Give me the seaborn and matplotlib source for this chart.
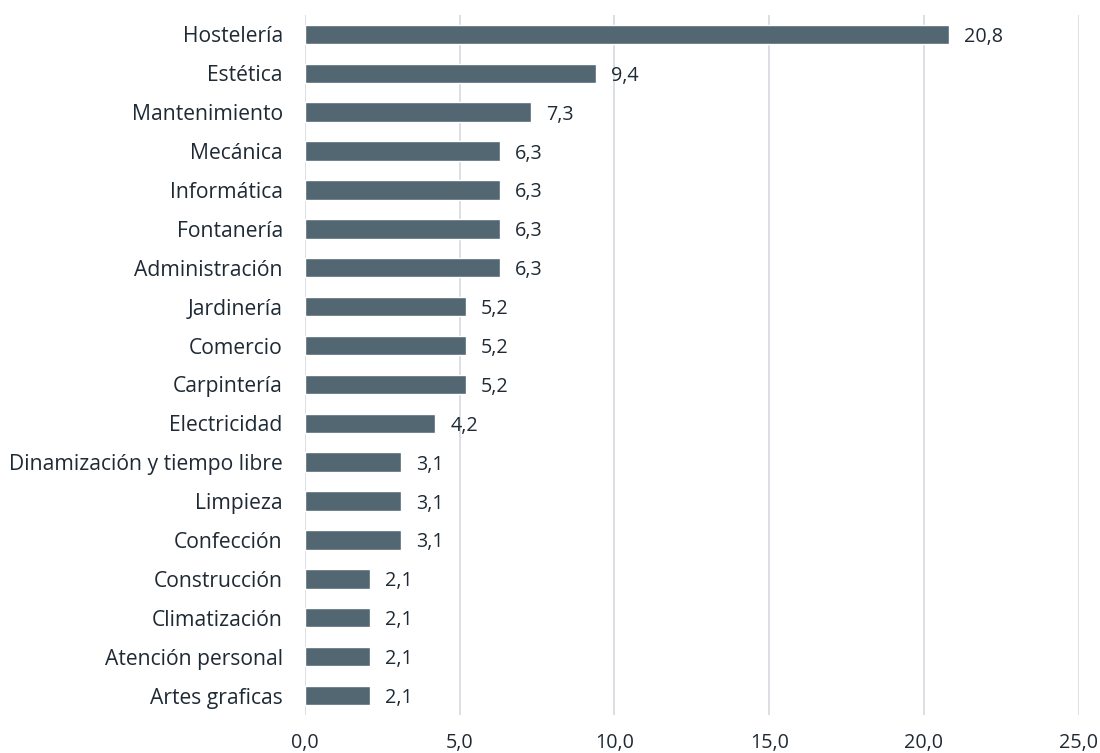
import matplotlib
matplotlib.use("Agg")
import matplotlib.pyplot as plt
import seaborn as sns
import pandas as pd

categories = [
    "Hostelería", "Estética", "Mantenimiento", "Mecánica", "Informática",
    "Fontanería", "Administración", "Jardinería", "Comercio", "Carpintería",
    "Electricidad", "Dinamización y tiempo libre", "Limpieza", "Confección",
    "Construcción", "Climatización", "Atención personal", "Artes graficas",
]
values = [20.8, 9.4, 7.3, 6.3, 6.3, 6.3, 6.3, 5.2, 5.2, 5.2, 4.2, 3.1, 3.1, 3.1,
          2.1, 2.1, 2.1, 2.1]
xticks = [0, 5, 10, 15, 20, 25]

sns.set_theme(style="white")
plt.rcParams["font.family"] = ["Open Sans", "DejaVu Sans"]

TEXT = "#1f2a35"
BAR = "#536773"
GRID = "#d9dde3"

df = pd.DataFrame({"area": categories, "pct": values})

fig = plt.figure(figsize=(11, 7.53), dpi=100)
ax = fig.add_axes([0.2773, 0.0505, 0.9806 - 0.2773, 0.9801 - 0.0505])

sns.barplot(data=df, x="pct", y="area", orient="h", color=BAR, saturation=1,
            width=0.5, ax=ax, zorder=3)

ax.set_xlim(0, 25)
ax.set_xticks(xticks)
ax.set_xticklabels([f"{t:.1f}".replace(".", ",") for t in xticks])
ax.set_xlabel("")
ax.set_ylabel("")
ax.grid(axis="x", color=GRID, linewidth=1.3, zorder=0)
ax.grid(axis="y", visible=False)
for s in ax.spines.values():
    s.set_visible(False)

ax.tick_params(axis="y", length=0, pad=16, labelsize=15.2, labelcolor=TEXT)
ax.tick_params(axis="x", length=0, pad=13, labelsize=14.2, labelcolor=TEXT)

labels = ax.bar_label(ax.containers[0],
                      labels=[f"{v:.1f}".replace(".", ",") for v in values],
                      padding=11, fontsize=14.2, color=TEXT)
for t in labels:
    t.set_va("center_baseline")

fig.savefig("out.png", dpi=100)
